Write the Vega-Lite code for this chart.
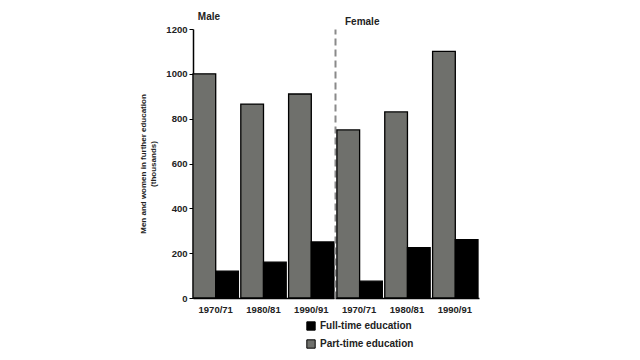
{
  "$schema": "https://vega.github.io/schema/vega-lite/v6.json",
  "background": "white",
  "padding": {"left": 139, "top": 12, "right": 5, "bottom": 5},
  "data": {"values": [
    {"sex": "Male", "year": "1970/71", "type": "Part-time education", "value": 1000},
    {"sex": "Male", "year": "1970/71", "type": "Full-time education", "value": 120},
    {"sex": "Male", "year": "1980/81", "type": "Part-time education", "value": 865},
    {"sex": "Male", "year": "1980/81", "type": "Full-time education", "value": 160},
    {"sex": "Male", "year": "1990/91", "type": "Part-time education", "value": 910},
    {"sex": "Male", "year": "1990/91", "type": "Full-time education", "value": 250},
    {"sex": "Female", "year": "1970/71", "type": "Part-time education", "value": 750},
    {"sex": "Female", "year": "1970/71", "type": "Full-time education", "value": 75},
    {"sex": "Female", "year": "1980/81", "type": "Part-time education", "value": 830},
    {"sex": "Female", "year": "1980/81", "type": "Full-time education", "value": 225},
    {"sex": "Female", "year": "1990/91", "type": "Part-time education", "value": 1100},
    {"sex": "Female", "year": "1990/91", "type": "Full-time education", "value": 260}
  ]},
  "spacing": 0,
  "hconcat": [
    {
      "title": {"text": "Male", "anchor": "start", "dx": 58, "offset": 2},
      "transform": [{"filter": "datum.sex === 'Male'"}],
      "width": 141,
      "height": 269,
      "mark": {"type": "bar", "stroke": "black", "strokeWidth": 1.3},
      "encoding": {
        "x": {"field": "year", "type": "nominal", "title": null,
              "scale": {"paddingInner": 0.05, "paddingOuter": 0.0},
              "axis": {"labelAngle": 0, "ticks": false, "labelPadding": 6}},
        "xOffset": {"field": "type", "sort": ["Part-time education", "Full-time education"]},
        "y": {"field": "value", "type": "quantitative",
              "scale": {"domain": [0, 1200]},
              "title": ["Men and women in further education", "(thousands)"],
              "axis": {"values": [0, 200, 400, 600, 800, 1000, 1200], "format": "d", "grid": false, "titlePadding": 8}},
        "color": {"field": "type", "type": "nominal", "title": null,
                  "scale": {"domain": ["Full-time education", "Part-time education"], "range": ["#000000", "#6f706c"]},
                  "legend": {"orient": "none", "legendX": 113, "legendY": 292, "direction": "vertical", "symbolType": "square", "symbolStrokeColor": "black", "symbolStrokeWidth": 1, "symbolSize": 70, "rowPadding": 4}}
      }
    },
    {
      "title": {"text": "Female", "anchor": "start", "dx": 10, "offset": 2},
      "transform": [{"filter": "datum.sex === 'Female'"}],
      "width": 144,
      "height": 269,
      "mark": {"type": "bar", "stroke": "black", "strokeWidth": 1.3},
      "encoding": {
        "x": {"field": "year", "type": "nominal", "title": null,
              "scale": {"paddingInner": 0.07, "paddingOuter": 0.04},
              "axis": {"labelAngle": 0, "ticks": false, "labelPadding": 6}},
        "xOffset": {"field": "type", "sort": ["Part-time education", "Full-time education"]},
        "y": {"field": "value", "type": "quantitative",
              "scale": {"domain": [0, 1200]},
              "title": null,
              "axis": {"labels": false, "ticks": false, "grid": false, "domainColor": "#8a8a8a", "domainDash": [7, 4], "domainWidth": 2}},
        "color": {"field": "type", "type": "nominal", "title": null,
                  "scale": {"domain": ["Full-time education", "Part-time education"], "range": ["#000000", "#6f706c"]}}
      }
    }
  ],
  "resolve": {"scale": {"y": "shared", "color": "shared"}, "axis": {"y": "independent"}},
  "config": {
    "font": "Liberation Sans",
    "view": {"stroke": null},
    "title": {"fontSize": 10, "fontWeight": "bold", "color": "#222"},
    "axis": {"labelFont": "Liberation Sans", "labelFontWeight": "bold", "labelFontSize": 9.5, "labelColor": "#222",
             "titleFont": "Liberation Sans", "titleFontWeight": "bold", "titleFontSize": 8, "titleColor": "#222",
             "domainColor": "black", "domainWidth": 1.5, "tickColor": "black", "tickSize": 4},
    "legend": {"labelFont": "Liberation Sans", "labelFontWeight": "bold", "labelFontSize": 10, "labelColor": "#222"}
  }
}
